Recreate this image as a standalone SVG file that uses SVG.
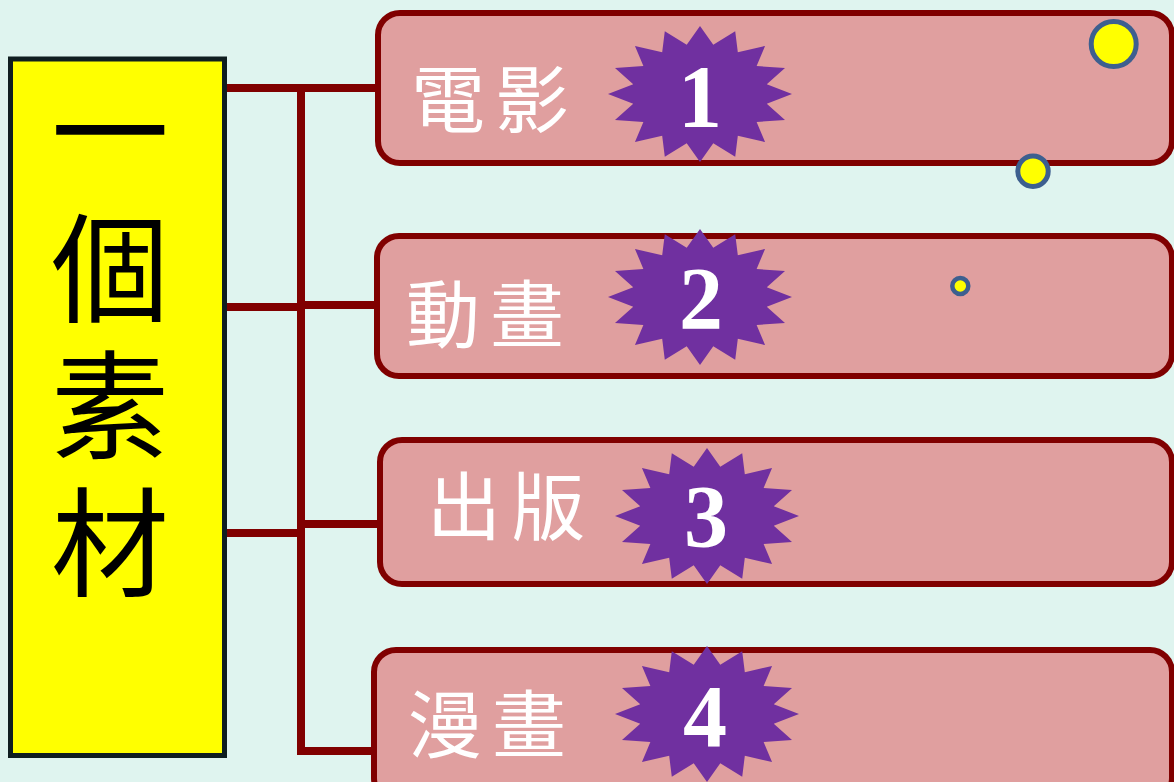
<svg xmlns="http://www.w3.org/2000/svg" width="1174" height="782" viewBox="0 0 1174 782">
<style>
.bg{fill:#dff4ef}
.box{fill:#e09f9f;stroke:#800000;stroke-width:6}
.conn{stroke:#800000;stroke-width:8;fill:none;stroke-linecap:butt}
.star{fill:#7030a0}
.num{font-family:"Liberation Serif",serif;font-weight:bold;font-size:88px;fill:#ffffff;text-anchor:middle}
.lbl{font-family:"Noto Sans CJK TC",sans-serif;font-size:74px;fill:#ffffff;letter-spacing:10px;dominant-baseline:central}
.main{font-family:"Noto Sans CJK TC",sans-serif;font-size:118px;fill:#000000;writing-mode:vertical-rl;letter-spacing:19px}
.dot{fill:#ffff00;stroke:#3d5f8f}
</style>
<defs>
<path id="star16" class="star" d="M0,-68 L13.28,-49.35 L35.21,-62.82 L37.82,-41.84 L65.05,-48.08 L56.61,-27.96 L85,-26.02 L66.77,-9.82 L92,0 L66.77,9.82 L85,26.02 L56.61,27.96 L65.05,48.08 L37.82,41.84 L35.21,62.82 L13.28,49.35 L0,68 L-13.28,49.35 L-35.21,62.82 L-37.82,41.84 L-65.05,48.08 L-56.61,27.96 L-85,26.02 L-66.77,9.82 L-92,0 L-66.77,-9.82 L-85,-26.02 L-56.61,-27.96 L-65.05,-48.08 L-37.82,-41.84 L-35.21,-62.82 L-13.28,-49.35 Z"/>
</defs>
<rect class="bg" x="0" y="0" width="1174" height="782"/>

<g id="connectors">
<line class="conn" x1="227" y1="88" x2="378" y2="88"/>
<line class="conn" x1="301" y1="84" x2="301" y2="755"/>
<line class="conn" x1="227" y1="307" x2="301" y2="307"/>
<line class="conn" x1="301" y1="305" x2="377" y2="305"/>
<line class="conn" x1="227" y1="533" x2="301" y2="533"/>
<line class="conn" x1="301" y1="524" x2="380" y2="524"/>
<line class="conn" x1="297" y1="751" x2="374" y2="751"/>
</g>

<g id="root">
<rect x="10.5" y="59" width="214" height="696.5" fill="#ffff00" stroke="#0f1e20" stroke-width="5"/>
<text class="main" x="110" y="72">一個素材</text>
</g>

<g id="node1">
<rect class="box" x="378" y="13" width="794" height="150" rx="22"/>
<text class="lbl" x="411" y="94">電影</text>
<use href="#star16" x="700" y="94"/>
<text class="num" x="700" y="126">1</text>
</g>

<g id="node2">
<rect class="box" x="377" y="236" width="795" height="140" rx="22"/>
<text class="lbl" x="406" y="309">動畫</text>
<use href="#star16" x="700" y="297"/>
<text class="num" x="701" y="328">2</text>
</g>

<g id="node3">
<rect class="box" x="380" y="440" width="792" height="144" rx="22"/>
<text class="lbl" x="427" y="501">出版</text>
<use href="#star16" x="707" y="516"/>
<text class="num" x="706" y="546">3</text>
</g>

<g id="node4">
<rect class="box" x="374" y="650" width="798" height="150" rx="22"/>
<text class="lbl" x="408" y="719">漫畫</text>
<use href="#star16" x="707" y="714"/>
<text class="num" x="705" y="746">4</text>
</g>

<g id="dots">
<circle class="dot" cx="1113.7" cy="44" r="22.5" stroke-width="5"/>
<circle class="dot" cx="1033" cy="171.3" r="15.2" stroke-width="5"/>
<circle class="dot" cx="960.3" cy="286" r="8" stroke-width="4.5"/>
</g>
</svg>
